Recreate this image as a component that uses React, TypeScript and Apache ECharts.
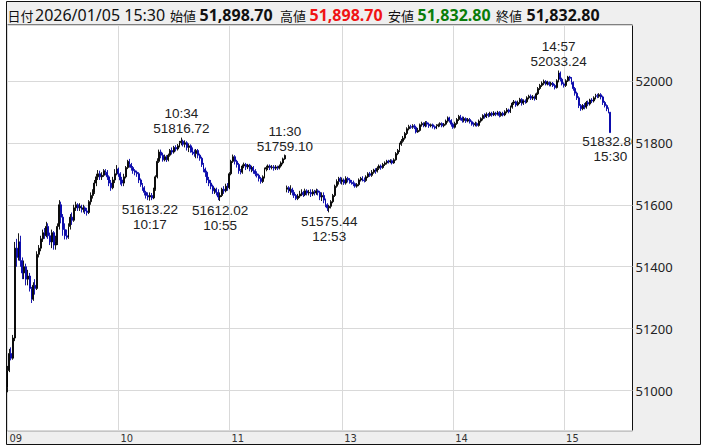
import { useEffect, useRef } from "react";
import * as echarts from "echarts";

// one-minute candles, rows are [open, close, low, high]
// morning session 09:00 - 11:30
const amCandles: number[][] = [
  // 09:00
  [51010, 51065, 50995, 51080], [51065, 51120, 51060, 51135], [51120, 51105, 51098, 51140], [51105, 51170, 51100, 51180], [51170, 51460, 51160, 51480],
  [51460, 51430, 51400, 51490], [51430, 51480, 51420, 51508], [51480, 51420, 51400, 51500], [51420, 51380, 51360, 51430], [51380, 51400, 51360, 51420],
  // 09:10
  [51400, 51360, 51340, 51410], [51360, 51370, 51340, 51390], [51370, 51330, 51320, 51380], [51330, 51295, 51283, 51335], [51295, 51340, 51290, 51350],
  [51340, 51330, 51310, 51360], [51330, 51440, 51325, 51450], [51440, 51460, 51430, 51470], [51460, 51490, 51450, 51500], [51490, 51510, 51480, 51520],
  // 09:20
  [51510, 51500, 51490, 51525], [51500, 51530, 51495, 51545], [51530, 51500, 51490, 51540], [51500, 51480, 51470, 51510], [51480, 51510, 51460, 51520],
  [51510, 51470, 51455, 51515], [51470, 51480, 51455, 51500], [51480, 51530, 51470, 51540], [51530, 51600, 51520, 51615], [51600, 51560, 51540, 51610],
  // 09:30
  [51560, 51520, 51500, 51570], [51520, 51500, 51488, 51540], [51500, 51495, 51488, 51520], [51495, 51530, 51490, 51540], [51530, 51560, 51520, 51570],
  [51560, 51550, 51535, 51575], [51550, 51590, 51545, 51600], [51590, 51600, 51580, 51610], [51600, 51590, 51580, 51605], [51590, 51595, 51580, 51605],
  // 09:40
  [51595, 51585, 51575, 51600], [51585, 51590, 51575, 51600], [51590, 51580, 51570, 51595], [51580, 51575, 51565, 51590], [51575, 51610, 51570, 51615],
  [51610, 51630, 51600, 51640], [51630, 51640, 51620, 51650], [51640, 51670, 51635, 51680], [51670, 51690, 51660, 51700], [51690, 51700, 51680, 51712],
  // 09:50
  [51700, 51690, 51680, 51710], [51690, 51695, 51680, 51705], [51695, 51710, 51690, 51715], [51710, 51705, 51695, 51715], [51705, 51690, 51680, 51712],
  [51690, 51670, 51660, 51695], [51670, 51655, 51645, 51680], [51655, 51680, 51650, 51690], [51680, 51700, 51670, 51715], [51700, 51715, 51695, 51728],
  // 10:00
  [51715, 51700, 51690, 51720], [51700, 51680, 51665, 51705], [51680, 51670, 51660, 51690], [51670, 51690, 51660, 51700], [51690, 51720, 51685, 51725],
  [51720, 51740, 51715, 51745], [51740, 51730, 51720, 51748], [51730, 51720, 51710, 51735], [51720, 51710, 51700, 51725], [51710, 51705, 51695, 51715],
  // 10:10
  [51705, 51700, 51690, 51710], [51700, 51680, 51670, 51705], [51680, 51665, 51658, 51685], [51665, 51655, 51645, 51670], [51655, 51640, 51630, 51660],
  [51640, 51630, 51620, 51645], [51630, 51625, 51615, 51640], [51625, 51630, 51613.22, 51640], [51630, 51622, 51615, 51638], [51622, 51650, 51618, 51655],
  // 10:20
  [51650, 51690, 51645, 51695], [51690, 51740, 51685, 51750], [51740, 51770, 51735, 51778], [51770, 51760, 51750, 51778], [51760, 51745, 51739, 51768],
  [51745, 51755, 51740, 51762], [51755, 51745, 51738, 51760], [51745, 51760, 51740, 51765], [51760, 51775, 51755, 51780], [51775, 51770, 51762, 51785],
  // 10:30
  [51770, 51785, 51765, 51790], [51785, 51780, 51772, 51792], [51780, 51790, 51775, 51796], [51790, 51800, 51785, 51806], [51800, 51805, 51792, 51816.72],
  [51805, 51795, 51788, 51810], [51795, 51800, 51785, 51808], [51800, 51785, 51775, 51805], [51785, 51790, 51770, 51798], [51790, 51775, 51768, 51795],
  // 10:40
  [51775, 51770, 51760, 51785], [51770, 51765, 51755, 51778], [51765, 51775, 51750, 51780], [51775, 51760, 51750, 51780], [51760, 51750, 51742, 51765],
  [51750, 51730, 51722, 51755], [51730, 51715, 51705, 51735], [51715, 51705, 51690, 51720], [51705, 51680, 51670, 51710], [51680, 51670, 51660, 51690],
  // 10:50
  [51670, 51660, 51650, 51680], [51660, 51645, 51635, 51665], [51645, 51650, 51635, 51655], [51650, 51640, 51630, 51655], [51640, 51625, 51615, 51650],
  [51625, 51630, 51612.02, 51640], [51630, 51650, 51625, 51655], [51650, 51645, 51635, 51660], [51645, 51660, 51640, 51668], [51660, 51655, 51645, 51670],
  // 11:00
  [51655, 51700, 51650, 51705], [51700, 51740, 51695, 51745], [51740, 51755, 51735, 51762], [51755, 51740, 51730, 51760], [51740, 51730, 51720, 51745],
  [51730, 51710, 51700, 51735], [51710, 51705, 51698, 51715], [51705, 51725, 51700, 51730], [51725, 51730, 51718, 51736], [51730, 51722, 51712, 51735],
  // 11:10
  [51722, 51728, 51715, 51732], [51728, 51715, 51708, 51732], [51715, 51720, 51705, 51726], [51720, 51710, 51700, 51725], [51710, 51700, 51692, 51715],
  [51700, 51695, 51688, 51708], [51695, 51685, 51675, 51700], [51685, 51675, 51668, 51690], [51675, 51690, 51670, 51695], [51690, 51715, 51685, 51720],
  // 11:20
  [51715, 51720, 51708, 51726], [51720, 51725, 51712, 51730], [51725, 51720, 51712, 51730], [51720, 51722, 51714, 51728], [51722, 51718, 51710, 51728],
  [51718, 51722, 51712, 51728], [51722, 51718, 51712, 51726], [51718, 51725, 51714, 51730], [51725, 51735, 51720, 51740], [51735, 51748, 51730, 51752],
  // 11:30
  [51748, 51759.1, 51745, 51762],
];

// afternoon session 12:30 - 15:24, then the 15:30 closing auction
const pmCandles: number[][] = [
  // 12:30
  [51650, 51655, 51640, 51662], [51655, 51645, 51638, 51660], [51645, 51650, 51632, 51663], [51650, 51640, 51630, 51655], [51640, 51630, 51622, 51648],
  [51630, 51620, 51615, 51635], [51620, 51628, 51615, 51635], [51628, 51635, 51622, 51645], [51635, 51640, 51628, 51650], [51640, 51632, 51625, 51645],
  // 12:40
  [51632, 51645, 51628, 51652], [51645, 51638, 51630, 51650], [51638, 51640, 51630, 51648], [51640, 51635, 51625, 51650], [51635, 51642, 51628, 51650],
  [51642, 51638, 51630, 51648], [51638, 51645, 51632, 51652], [51645, 51640, 51630, 51650], [51640, 51625, 51615, 51645], [51625, 51630, 51612, 51640],
  // 12:50
  [51630, 51615, 51605, 51640], [51615, 51600, 51592, 51620], [51600, 51590, 51580, 51605], [51590, 51595, 51575.44, 51600], [51595, 51610, 51588, 51615],
  [51610, 51630, 51605, 51635], [51630, 51660, 51625, 51665], [51660, 51675, 51655, 51682], [51675, 51685, 51665, 51690], [51685, 51675, 51668, 51690],
  // 13:00
  [51675, 51680, 51665, 51688], [51680, 51670, 51664, 51685], [51670, 51685, 51665, 51692], [51685, 51680, 51672, 51690], [51680, 51675, 51668, 51686],
  [51675, 51672, 51665, 51680], [51672, 51668, 51660, 51678], [51668, 51660, 51655, 51672], [51660, 51665, 51655, 51670], [51665, 51680, 51660, 51685],
  // 13:10
  [51680, 51685, 51675, 51690], [51685, 51680, 51675, 51692], [51680, 51678, 51672, 51688], [51678, 51690, 51674, 51695], [51690, 51700, 51686, 51705],
  [51700, 51695, 51690, 51706], [51695, 51705, 51690, 51712], [51705, 51712, 51700, 51716], [51712, 51708, 51700, 51718], [51708, 51718, 51704, 51724],
  // 13:20
  [51718, 51725, 51712, 51730], [51725, 51720, 51713, 51730], [51720, 51730, 51716, 51735], [51730, 51735, 51725, 51740], [51735, 51740, 51730, 51745],
  [51740, 51738, 51733, 51745], [51738, 51742, 51734, 51747], [51742, 51735, 51730, 51746], [51735, 51745, 51732, 51750], [51745, 51765, 51742, 51770],
  // 13:30
  [51765, 51775, 51760, 51780], [51775, 51795, 51770, 51800], [51795, 51805, 51790, 51812], [51805, 51815, 51800, 51822], [51815, 51830, 51810, 51835],
  [51830, 51845, 51825, 51850], [51845, 51852, 51840, 51858], [51852, 51850, 51845, 51858], [51850, 51855, 51845, 51860], [51855, 51850, 51844, 51860],
  // 13:40
  [51850, 51835, 51830, 51855], [51835, 51840, 51832, 51848], [51840, 51858, 51836, 51862], [51858, 51862, 51852, 51868], [51862, 51855, 51850, 51866],
  [51855, 51865, 51850, 51870], [51865, 51860, 51852, 51870], [51860, 51855, 51848, 51865], [51855, 51858, 51850, 51862], [51858, 51852, 51846, 51862],
  // 13:50
  [51852, 51848, 51843, 51856], [51848, 51855, 51844, 51860], [51855, 51858, 51850, 51862], [51858, 51862, 51852, 51866], [51862, 51855, 51850, 51866],
  [51855, 51860, 51850, 51864], [51860, 51870, 51856, 51875], [51870, 51880, 51865, 51885], [51880, 51872, 51865, 51884], [51872, 51860, 51852, 51876],
  // 14:00
  [51860, 51850, 51845, 51865], [51850, 51862, 51846, 51868], [51862, 51875, 51858, 51880], [51875, 51885, 51870, 51890], [51885, 51880, 51872, 51890],
  [51880, 51872, 51865, 51885], [51872, 51878, 51866, 51884], [51878, 51870, 51864, 51882], [51870, 51875, 51866, 51880], [51875, 51868, 51862, 51880],
  // 14:10
  [51868, 51860, 51855, 51872], [51860, 51858, 51852, 51866], [51858, 51862, 51853, 51868], [51862, 51856, 51852, 51866], [51856, 51870, 51852, 51875],
  [51870, 51878, 51865, 51882], [51878, 51888, 51872, 51892], [51888, 51884, 51878, 51895], [51884, 51892, 51880, 51898], [51892, 51888, 51882, 51896],
  // 14:20
  [51888, 51895, 51884, 51900], [51895, 51890, 51884, 51900], [51890, 51896, 51886, 51902], [51896, 51892, 51886, 51900], [51892, 51898, 51888, 51903],
  [51898, 51888, 51882, 51902], [51888, 51895, 51884, 51900], [51895, 51890, 51885, 51900], [51890, 51900, 51886, 51905], [51900, 51906, 51895, 51912],
  // 14:30
  [51906, 51900, 51895, 51910], [51900, 51915, 51896, 51920], [51915, 51928, 51910, 51932], [51928, 51932, 51922, 51938], [51932, 51922, 51916, 51936],
  [51922, 51930, 51918, 51936], [51930, 51940, 51925, 51945], [51940, 51928, 51920, 51944], [51928, 51935, 51922, 51940], [51935, 51932, 51926, 51940],
  // 14:40
  [51932, 51945, 51928, 51950], [51945, 51950, 51940, 51955], [51950, 51944, 51938, 51956], [51944, 51948, 51938, 51954], [51948, 51942, 51936, 51952],
  [51942, 51958, 51938, 51962], [51958, 51975, 51954, 51980], [51975, 51985, 51970, 51990], [51985, 51992, 51980, 51998], [51992, 51998, 51986, 52004],
  // 14:50
  [51998, 51990, 51985, 52002], [51990, 51995, 51985, 52000], [51995, 51988, 51982, 51998], [51988, 51992, 51982, 51997], [51992, 51985, 51980, 51996],
  [51985, 51978, 51972, 51990], [51978, 52000, 51975, 52005], [52000, 52025, 51995, 52033.24], [52025, 52005, 51998, 52030], [52005, 51990, 51985, 52010],
  // 15:00
  [51990, 51985, 51978, 51995], [51985, 52000, 51980, 52005], [52000, 52012, 51996, 52016], [52012, 52008, 52000, 52016], [52008, 51995, 51988, 52012],
  [51995, 51975, 51968, 51998], [51975, 51960, 51952, 51980], [51960, 51945, 51938, 51965], [51945, 51920, 51912, 51950], [51920, 51910, 51903, 51925],
  // 15:10
  [51910, 51920, 51905, 51925], [51920, 51915, 51908, 51928], [51915, 51930, 51910, 51935], [51930, 51925, 51918, 51936], [51925, 51938, 51920, 51942],
  [51938, 51935, 51928, 51944], [51935, 51945, 51930, 51950], [51945, 51952, 51940, 51958], [51952, 51950, 51944, 51958], [51950, 51955, 51945, 51960],
  // 15:20
  [51955, 51948, 51940, 51960], [51948, 51930, 51922, 51952], [51930, 51920, 51914, 51935], [51920, 51910, 51902, 51924], [51910, 51900, 51895, 51914],
  // 15:30 closing auction
  [51898.7, 51832.8, 51832.8, 51898.7],
];

const tradeDate = "2026/01/05";
const hourLabels = ["09:00", "10:00", "11:00", "13:00", "14:00", "15:00"];
const yMin = 50871;
const yMax = 52180;

// labelled highs / lows on the chart
const notes = [
  { time: "10:34", field: "high", side: "top" },
  { time: "11:30", field: "close", side: "top" },
  { time: "14:57", field: "high", side: "top" },
  { time: "10:17", field: "low", side: "bottom" },
  { time: "10:55", field: "low", side: "bottom" },
  { time: "12:53", field: "low", side: "bottom" },
  { time: "15:30", field: "close", side: "bottom" },
];

const pad2 = (n: number) => (n < 10 ? "0" + n : String(n));
const minuteLabels = (h: number, m: number, count: number) => {
  const out: string[] = [];
  for (let k = 0; k < count; k++) {
    const t = h * 60 + m + k;
    out.push(pad2(Math.floor(t / 60)) + ":" + pad2(t % 60));
  }
  return out;
};

const times = [
  ...minuteLabels(9, 0, amCandles.length),
  ...minuteLabels(12, 30, pmCandles.length - 1),
  "15:30",
];
// empty room to the right of the last candle
const axisTimes = [...times, ...minuteLabels(15, 31, 12)];
const candles = [...amCandles, ...pmCandles];

const FONT = "'Noto Sans', 'Noto Sans CJK JP', sans-serif";
const CJK = "'Noto Sans CJK JP', sans-serif";
const NOTE_FONT = "'Liberation Sans', Arial, sans-serif";
const UP = "#000000";
const DOWN = "#0000a8";

const fmt = (v: number) =>
  v.toLocaleString("en-US", { minimumFractionDigits: 2, maximumFractionDigits: 2 });

const App: React.FC = () => {
  const chartRef = useRef<HTMLDivElement>(null);

  useEffect(() => {
    if (!chartRef.current) return;
    const chart = echarts.init(chartRef.current, undefined, { renderer: "svg" });

    const last = candles[candles.length - 1];
    const lastTime = times[times.length - 1];

    const headerText = (
      x: number,
      text: string,
      opts: { bold?: boolean; fill?: string; size?: number; family?: string } = {}
    ) => ({
      type: "text",
      x,
      y: 14,
      z: 50,
      style: {
        text,
        fill: opts.fill || "#111",
        fontSize: opts.size || 15,
        fontFamily: opts.family || FONT,
        fontWeight: opts.bold ? "bold" : "normal",
        verticalAlign: "middle",
      },
    });
    const label = (x: number, text: string) => headerText(x, text, { size: 13, family: CJK });
    const value = (x: number, v: number, fill = "#111") =>
      headerText(x, fmt(v), { bold: true, size: 16, fill });

    const marks = notes.map((n) => {
      const row = candles[times.indexOf(n.time)];
      const v = n.field === "high" ? row[3] : n.field === "low" ? row[2] : row[1];
      const val = v.toFixed(2);
      return {
        coord: [n.time, v],
        value: v,
        label: {
          position: n.side,
          formatter: n.side === "top" ? `${n.time}\n${val}` : `${val}\n${n.time}`,
        },
      };
    });

    const isHour = (_i: number, v: string) => hourLabels.indexOf(v) >= 0;

    const options: any = {
      animation: false,
      backgroundColor: "#efefef",
      grid: {
        left: 1.5,
        right: 68.5,
        top: 24,
        bottom: 14.3,
        show: true,
        backgroundColor: "#ffffff",
        borderColor: "#111",
        borderWidth: 1,
      },
      xAxis: {
        type: "category",
        data: axisTimes,
        boundaryGap: false,
        axisLine: { show: false },
        axisTick: { show: false },
        axisLabel: {
          interval: isHour,
          formatter: (v: string) => v.slice(0, 2),
          align: "left",
          margin: 2,
          padding: [0, 0, 0, 2],
          fontSize: 11,
          color: "#333",
          fontFamily: "'DejaVu Sans Condensed', 'Liberation Sans Narrow', sans-serif",
        },
        splitLine: {
          show: true,
          interval: isHour,
          lineStyle: { color: "#d9d9d9", width: 1 },
        },
      },
      yAxis: [
        {
          type: "value",
          position: "right",
          min: yMin,
          max: yMax,
          splitNumber: 6,
          minInterval: 200,
          maxInterval: 200,
          axisLine: { show: false },
          axisTick: { show: false },
          axisLabel: { show: false },
          splitLine: { lineStyle: { color: "#d9d9d9", width: 1 } },
        },
        {
          type: "value",
          position: "right",
          min: yMin,
          max: yMax,
          splitNumber: 6,
          minInterval: 200,
          maxInterval: 200,
          z: 60,
          axisLine: { show: false },
          axisTick: { show: false },
          splitLine: { show: false },
          axisLabel: {
            margin: 3,
            fontSize: 13,
            color: "#222",
            fontFamily: FONT,
            formatter: (v: number) => (Math.round(v) % 200 === 0 ? String(v) : ""),
          },
        },
      ],
      series: [
        {
          type: "candlestick",
          data: candles,
          barWidth: 1.4,
          itemStyle: {
            color: UP,
            color0: DOWN,
            borderColor: UP,
            borderColor0: DOWN,
            borderWidth: 0.9,
          },
          markPoint: {
            symbol: "circle",
            symbolSize: 1,
            itemStyle: { color: "rgba(0,0,0,0)" },
            label: {
              show: true,
              color: "#222",
              fontSize: 13.5,
              lineHeight: 15,
              fontFamily: NOTE_FONT,
              distance: 1,
            },
            data: marks,
          },
        },
      ],
      graphic: [
        // right price panel, hides label overflow
        {
          type: "rect",
          z: 50,
          shape: { x: 627, y: 24.5, width: 67.5, height: 405 },
          style: { fill: "#efefef" },
        },
        {
          type: "rect",
          z: 55,
          shape: { x: 0.5, y: 0.5, width: 694, height: 443 },
          style: { fill: "none", stroke: "#111", lineWidth: 1 },
        },
        label(1.5, "日付"),
        headerText(29, `${tradeDate} ${lastTime}`, { size: 16 }),
        label(164, "始値"),
        value(193.5, last[0]),
        label(274, "高値"),
        value(303.5, last[3], "#f01414"),
        label(382, "安値"),
        value(411.5, last[2], "#0a7d0a"),
        label(490, "終値"),
        value(520.5, last[1]),
      ],
    };

    chart.setOption(options);
    return () => {
      chart.dispose();
    };
  }, []);

  return (
    <div
      ref={chartRef}
      style={{ position: "absolute", left: 6, top: 1, width: 695, height: 444 }}
    />
  );
};

export default App;
